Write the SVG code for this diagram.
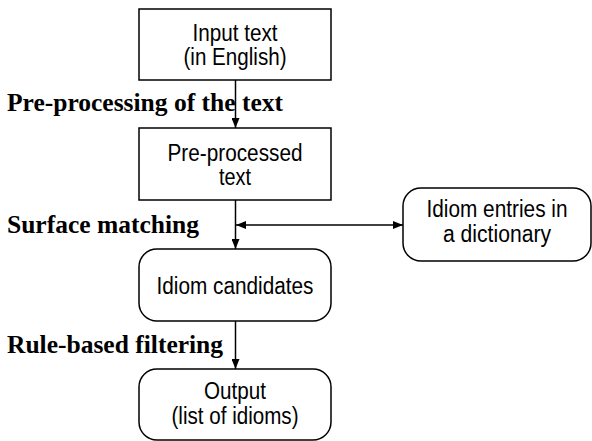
<svg xmlns="http://www.w3.org/2000/svg" width="592" height="441" viewBox="0 0 592 441">
<style>
.box{fill:#fff;stroke:#000;stroke-width:1.5}
.t{font-family:"Liberation Sans",Arial,sans-serif;font-size:23px;fill:#000;text-anchor:middle}
.lbl{font-family:"Liberation Serif","Times New Roman",serif;font-size:25.5px;font-weight:bold;fill:#000}
.c{fill:none;stroke:#000;stroke-width:1.5}
</style>
<defs>
<marker id="ah" viewBox="0 0 10 8" refX="10" refY="4" markerWidth="10" markerHeight="8" markerUnits="userSpaceOnUse" orient="auto">
<path d="M0,0 L10,4 L0,8 Z" fill="#000"/>
</marker>
<marker id="ahs" viewBox="0 0 10 8" refX="0" refY="4" markerWidth="10" markerHeight="8" markerUnits="userSpaceOnUse" orient="auto">
<path d="M10,0 L0,4 L10,8 Z" fill="#000"/>
</marker>
</defs>
<rect width="592" height="441" fill="#fff"/>
<g id="connectors">
<line class="c" x1="235.5" y1="80" x2="235.5" y2="128" marker-end="url(#ah)"/>
<line class="c" x1="235.5" y1="200" x2="235.5" y2="249" marker-end="url(#ah)"/>
<line class="c" x1="236" y1="225" x2="403" y2="225" marker-start="url(#ahs)" marker-end="url(#ah)"/>
<line class="c" x1="235.5" y1="321" x2="235.5" y2="369" marker-end="url(#ah)"/>
</g>
<g id="labels">
<text class="lbl" x="7" y="111">Pre-processing of the text</text>
<text class="lbl" x="7" y="233">Surface matching</text>
<text class="lbl" x="7" y="353">Rule-based filtering</text>
</g>
<g id="input">
<rect class="box" x="139" y="9" width="192" height="71"/>
<text class="t" x="235" y="41" textLength="85" lengthAdjust="spacingAndGlyphs">Input text</text>
<text class="t" x="235" y="65" textLength="103" lengthAdjust="spacingAndGlyphs">(in English)</text>
</g>
<g id="preprocessed">
<rect class="box" x="139" y="128" width="192" height="72"/>
<text class="t" x="235" y="161" textLength="135" lengthAdjust="spacingAndGlyphs">Pre-processed</text>
<text class="t" x="235" y="185" textLength="32" lengthAdjust="spacingAndGlyphs">text</text>
</g>
<g id="dictionary">
<rect class="box" x="403" y="188" width="188" height="73" rx="18" ry="18"/>
<text class="t" x="497" y="217" textLength="141" lengthAdjust="spacingAndGlyphs">Idiom entries in</text>
<text class="t" x="497" y="242" textLength="108" lengthAdjust="spacingAndGlyphs">a dictionary</text>
</g>
<g id="candidates">
<rect class="box" x="139" y="249" width="192" height="72" rx="18" ry="18"/>
<text class="t" x="235" y="294" textLength="157" lengthAdjust="spacingAndGlyphs">Idiom candidates</text>
</g>
<g id="output">
<rect class="box" x="139" y="369" width="192" height="71" rx="18" ry="18"/>
<text class="t" x="235" y="399" textLength="62" lengthAdjust="spacingAndGlyphs">Output</text>
<text class="t" x="235" y="424" textLength="127" lengthAdjust="spacingAndGlyphs">(list of idioms)</text>
</g>
</svg>
